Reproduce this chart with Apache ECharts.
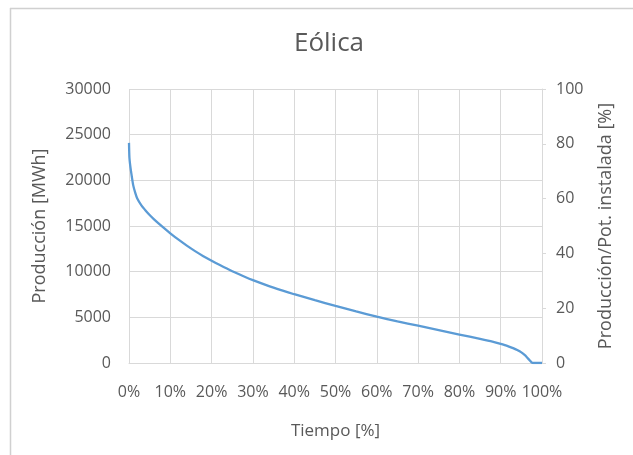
<!DOCTYPE html>
<html>
<head>
<meta charset="utf-8">
<script src="https://cdn.jsdelivr.net/npm/echarts@6/dist/echarts.min.js"></script>
<style>
  html, body { margin: 0; padding: 0; background: #ffffff; }
  #chart { width: 633px; height: 455px; }
</style>
</head>
<body>
<div id="chart"></div>
<script>
// Duration curve of wind production: share of time vs hourly production
const tiempo = [0, 0.1, 0.3, 0.5, 1, 1.5, 2, 3, 4, 5, 6, 8, 10, 12, 14, 16, 18, 20, 22, 25, 28, 30,
  35, 40, 45, 50, 55, 60, 65, 70, 75, 80, 85, 88, 90, 91, 92, 93, 94, 95, 96, 96.5, 97, 97.5, 98, 99, 100];
const produccion = [24100, 22500, 21600, 20950, 19500, 18650, 18000, 17250, 16700, 16200, 15750, 14950,
  14200, 13500, 12850, 12250, 11700, 11200, 10720, 10050, 9450, 9080,
  8250, 7530, 6880, 6250, 5650, 5070, 4550, 4080, 3600, 3120, 2640, 2340, 2100, 1960, 1800, 1630,
  1420, 1160, 800, 550, 300, 50, 0, 0, 0];

const titulo = 'Eólica';
const nombreX = 'Tiempo [%]';
const nombreY1 = 'Producción [MWh]';
const nombreY2 = 'Producción/Pot. instalada [%]';

const textColor = '#595959';
const gridColor = '#d9d9d9';
const fontFamily = '"Open Sans", sans-serif';

const chart = echarts.init(document.getElementById('chart'), null, { renderer: 'canvas' });

chart.setOption({
  animation: false,
  backgroundColor: '#ffffff',
  textStyle: { fontFamily: fontFamily, color: textColor },
  title: {
    text: titulo,
    left: 324,
    textAlign: 'center',
    top: 26,
    textStyle: { fontFamily: fontFamily, fontSize: 26, fontWeight: 'normal', color: textColor }
  },
  graphic: [
    { type: 'line', shape: { x1: 10, y1: 8.5, x2: 633, y2: 8.5 }, style: { stroke: '#d0d0d0', lineWidth: 1.5 } },
    { type: 'line', shape: { x1: 10.5, y1: 8, x2: 10.5, y2: 455 }, style: { stroke: '#d0d0d0', lineWidth: 1.5 } }
  ],
  grid: { left: 129, right: 91, top: 89, bottom: 92 },
  xAxis: {
    type: 'value',
    min: 0,
    max: 100,
    interval: 10,
    name: nombreX,
    nameLocation: 'middle',
    nameGap: 60,
    nameTextStyle: { fontSize: 17, color: textColor },
    axisLine: { show: true, lineStyle: { color: gridColor } },
    axisTick: { show: false },
    axisLabel: { formatter: '{value}%', fontSize: 16, color: textColor, margin: 21 },
    splitLine: { show: true, lineStyle: { color: gridColor } }
  },
  yAxis: [
    {
      type: 'value',
      min: 0,
      max: 30000,
      interval: 5000,
      name: nombreY1,
      nameLocation: 'middle',
      nameGap: 80,
      nameTextStyle: { fontSize: 18, color: textColor },
      axisLine: { show: false },
      axisTick: { show: false },
      axisLabel: { fontSize: 16, color: textColor, margin: 18, formatter: v => String(v) },
      splitLine: { show: true, lineStyle: { color: gridColor } }
    },
    {
      type: 'value',
      min: 0,
      max: 100,
      interval: 20,
      position: 'right',
      name: nombreY2,
      nameLocation: 'middle',
      nameGap: 55,
      nameRotate: 90,
      nameTextStyle: { fontSize: 18, color: textColor },
      axisLine: { show: true, lineStyle: { color: gridColor } },
      axisTick: { show: true, length: 4, lineStyle: { color: gridColor } },
      axisLabel: { fontSize: 16, color: textColor, margin: 14 },
      splitLine: { show: false }
    }
  ],
  series: [
    {
      type: 'line',
      yAxisIndex: 0,
      data: tiempo.map((t, i) => [t, produccion[i]]),
      showSymbol: false,
      smooth: 0.2,
      lineStyle: { color: '#5b9bd5', width: 2.3 },
      itemStyle: { color: '#5b9bd5' }
    }
  ]
});
</script>
</body>
</html>
